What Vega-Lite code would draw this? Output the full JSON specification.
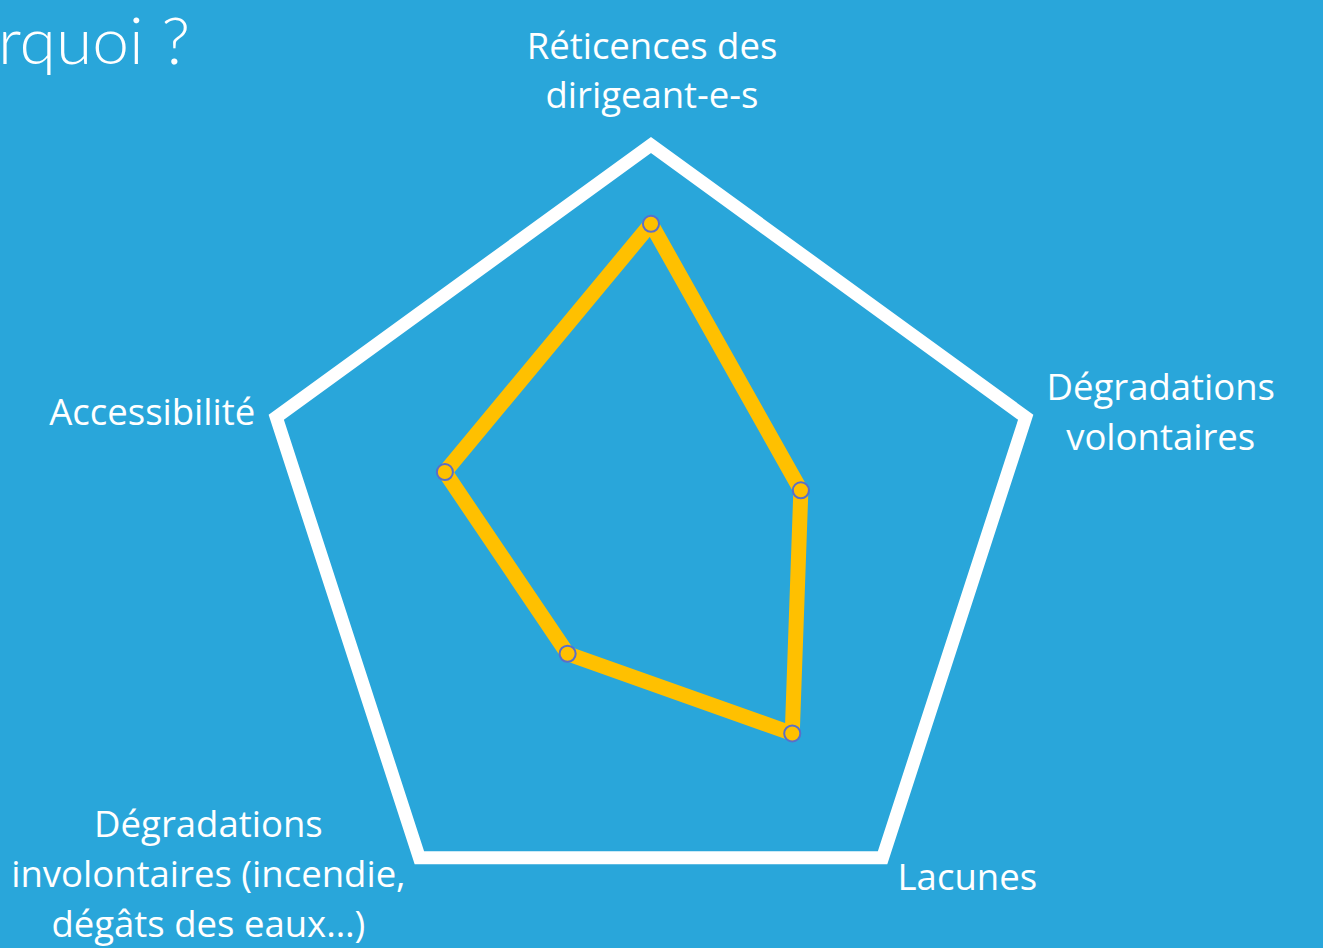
{
  "$schema": "https://vega.github.io/schema/vega-lite/v6.json",
  "width": 1323,
  "height": 948,
  "autosize": "none",
  "padding": 0,
  "background": "#29a6da",
  "config": {"view": {"stroke": null}},
  "title": {
    "text": "rquoi ?",
    "anchor": "start",
    "frame": "group",
    "orient": "top",
    "offset": 0,
    "dy": 130,
    "dx": -2,
    "baseline": "alphabetic",
    "font": "Lato",
    "fontWeight": 300,
    "fontSize": 66,
    "color": "#ffffff"
  },
  "data": {
    "values": [
      {"axe": "Réticences des dirigeant-e-s", "label": "Réticences des\ndirigeant-e-s", "valeur": 4.0},
      {"axe": "Dégradations volontaires", "label": "Dégradations\nvolontaires", "valeur": 2.0},
      {"axe": "Lacunes", "label": "Lacunes", "valeur": 3.05},
      {"axe": "Dégradations involontaires", "label": "Dégradations\ninvolontaires (incendie,\ndégâts des eaux…)", "valeur": 1.8},
      {"axe": "Accessibilité", "label": "Accessibilité", "valeur": 2.75}
    ]
  },
  "transform": [
    {"window": [{"op": "row_number", "as": "idx"}]},
    {"calculate": "(datum.idx - 1) * 2 * PI / 5", "as": "angle"},
    {"calculate": "datum.valeur * sin(datum.angle)", "as": "px"},
    {"calculate": "datum.valeur * cos(datum.angle)", "as": "py"},
    {"calculate": "5 * sin(datum.angle)", "as": "vx"},
    {"calculate": "5 * cos(datum.angle)", "as": "vy"}
  ],
  "layer": [
    {
      "mark": {"type": "line", "interpolate": "linear-closed", "stroke": "#ffffff", "strokeWidth": 13, "strokeJoin": "miter"},
      "encoding": {
        "x": {"field": "vx", "type": "quantitative", "scale": {"domain": [-8.261, 8.528], "nice": false, "zero": false}, "axis": null},
        "y": {"field": "vy", "type": "quantitative", "scale": {"domain": [-5.19, 6.84], "nice": false, "zero": false}, "axis": null},
        "order": {"field": "idx"}
      }
    },
    {
      "mark": {"type": "line", "interpolate": "linear-closed", "stroke": "#ffc000", "strokeWidth": 15, "strokeJoin": "round"},
      "encoding": {
        "x": {"field": "px", "type": "quantitative"},
        "y": {"field": "py", "type": "quantitative"},
        "order": {"field": "idx"}
      }
    },
    {
      "mark": {"type": "point", "shape": "circle", "filled": true, "size": 260, "fill": "#ffc000", "stroke": "#5a6fc9", "strokeWidth": 2, "opacity": 1},
      "encoding": {
        "x": {"field": "px", "type": "quantitative"},
        "y": {"field": "py", "type": "quantitative"}
      }
    },
    {
      "transform": [{"filter": "datum.idx == 1"}],
      "mark": {"type": "text", "font": "Open Sans", "fontSize": 36.5, "color": "#ffffff", "lineBreak": "\n", "lineHeight": 49, "align": "center", "baseline": "alphabetic", "dx": 1, "dy": -86},
      "encoding": {"x": {"field": "vx", "type": "quantitative"}, "y": {"field": "vy", "type": "quantitative"}, "text": {"field": "label"}}
    },
    {
      "transform": [{"filter": "datum.idx == 2"}],
      "mark": {"type": "text", "font": "Open Sans", "fontSize": 36.5, "color": "#ffffff", "lineBreak": "\n", "lineHeight": 50, "align": "center", "baseline": "alphabetic", "dx": 135, "dy": -17},
      "encoding": {"x": {"field": "vx", "type": "quantitative"}, "y": {"field": "vy", "type": "quantitative"}, "text": {"field": "label"}}
    },
    {
      "transform": [{"filter": "datum.idx == 3"}],
      "mark": {"type": "text", "font": "Open Sans", "fontSize": 36.5, "color": "#ffffff", "align": "left", "baseline": "alphabetic", "dx": 15, "dy": 32},
      "encoding": {"x": {"field": "vx", "type": "quantitative"}, "y": {"field": "vy", "type": "quantitative"}, "text": {"field": "label"}}
    },
    {
      "transform": [{"filter": "datum.idx == 4"}],
      "mark": {"type": "text", "font": "Open Sans", "fontSize": 36.5, "color": "#ffffff", "lineBreak": "\n", "lineHeight": 50, "align": "center", "baseline": "alphabetic", "dx": -211, "dy": -21},
      "encoding": {"x": {"field": "vx", "type": "quantitative"}, "y": {"field": "vy", "type": "quantitative"}, "text": {"field": "label"}}
    },
    {
      "transform": [{"filter": "datum.idx == 5"}],
      "mark": {"type": "text", "font": "Open Sans", "fontSize": 36.5, "color": "#ffffff", "align": "right", "baseline": "alphabetic", "dx": -21, "dy": 8},
      "encoding": {"x": {"field": "vx", "type": "quantitative"}, "y": {"field": "vy", "type": "quantitative"}, "text": {"field": "label"}}
    }
  ]
}
